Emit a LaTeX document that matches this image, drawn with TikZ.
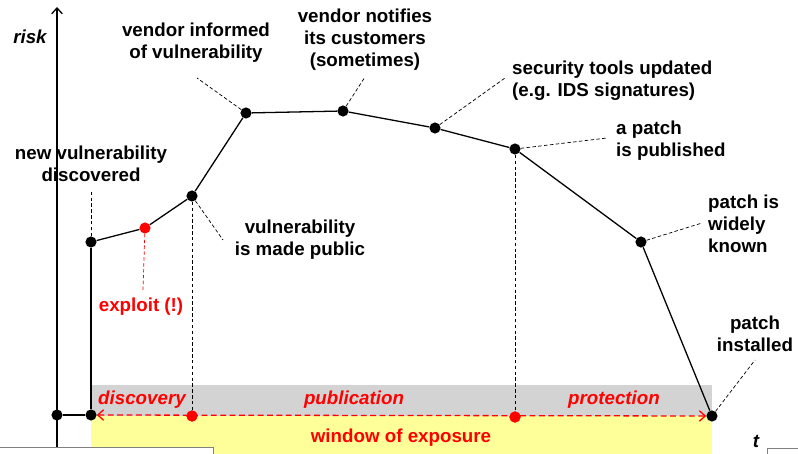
\documentclass[tikz,border=0pt]{standalone}
\usepackage{fontspec}
\setmainfont{Liberation Sans}
\usetikzlibrary{arrows.meta}
\definecolor{exposred}{rgb}{1, 0, 0}
\definecolor{bandgrey}{rgb}{0.827451, 0.827451, 0.827451}
\definecolor{bandyellow}{rgb}{1, 1, 0.6}
\tikzset{>={Straight Barb[length=5pt, width=9pt]}}
\tikzset{dot/.style={circle, fill=black, inner sep=0pt, minimum size=9.5pt}}
\tikzset{rdot/.style={circle, fill=exposred, inner sep=0pt, minimum size=9.5pt}}
\tikzset{curve/.style={line width=1.1pt, color=black}}
\tikzset{leader/.style={line width=0.6pt, dash pattern=on 3pt off 2pt}}
\tikzset{lbl/.style={font=\fontsize{16}{18.7}\selectfont\bfseries, align=center, inner sep=0pt}}
\tikzset{ilbl/.style={lbl, font=\fontsize{16}{18.7}\selectfont\bfseries\itshape}}
\tikzset{rlbl/.style={lbl, text=exposred}}

\begin{document}
\begin{tikzpicture}[x=0.03cm, y=-0.03cm]%{{{
        \useasboundingbox (0,0) rectangle (798,454);

        % exposure bands
        \fill [bandgrey] (91,385) rectangle (712,416);
        \fill [bandyellow] (91,416) rectangle (712,456);

        % axis
        \coordinate (A0) at (57,447);
        \coordinate (A1) at (57,7);
        \draw [line width=1.1pt, ->] (A0) -- (A1);
        \node[ilbl] (Lrisk) at (30,37) {risk};
        \node[ilbl] (Lt) at (756,441) {t};

        % points on the risk curve
        \node[dot] (P0) at (57,415) {};
        \node[dot] (P1) at (91,415) {};
        \node[dot] (P2) at (91,242) {};
        \node[rdot] (P3) at (145,228) {};
        \node[dot] (P4) at (192,196) {};
        \node[dot] (P5) at (246,113) {};
        \node[dot] (P6) at (343,111) {};
        \node[dot] (P7) at (435,128) {};
        \node[dot] (P8) at (515,149) {};
        \node[dot] (P9) at (641,242) {};
        \node[dot] (P10) at (712,416) {};
        \node[rdot] (R1) at (192,416) {};
        \node[rdot] (R2) at (515,417) {};

        \draw [curve] (P0) -- (P1);
        \draw [curve] (P1) -- (P2);
        \draw [curve] (P2) -- (P3);
        \draw [curve] (P3) -- (P4);
        \draw [curve] (P4) -- (P5);
        \draw [curve] (P5) -- (P6);
        \draw [curve] (P6) -- (P7);
        \draw [curve] (P7) -- (P8);
        \draw [curve] (P8) -- (P9);
        \draw [curve] (P9) -- (P10);

        \draw [leader] (P4) -- (R1);
        \draw [leader] (P8) -- (R2);
        \draw [line width=1.1pt, exposred, dash pattern=on 5pt off 3pt, <->] (P1) -- (P10);
        \node[rdot] at (R1) {};
        \node[rdot] at (R2) {};

        % labels and their leaders
        \coordinate (C2) at (91,190);
        \coordinate (C3) at (143,290);
        \coordinate (C4) at (223,240);
        \coordinate (C5) at (197,78);
        \coordinate (C6) at (365,77);
        \coordinate (C7) at (505,78);
        \coordinate (C8) at (607,138);
        \coordinate (C9) at (702,223);
        \coordinate (C10) at (755,360);

        \draw [leader] (P2) -- (C2);
        \draw [leader, exposred] (P3) -- (C3);
        \draw [leader] (P4) -- (C4);
        \draw [leader] (P5) -- (C5);
        \draw [leader] (P6) -- (C6);
        \draw [leader] (P7) -- (C7);
        \draw [leader] (P8) -- (C8);
        \draw [leader] (P9) -- (C9);
        \draw [leader] (P10) -- (C10);

        \node[lbl] (L2) at (91,164) {new vulnerability\\discovered};
        \node[rlbl] (L3) at (141,307) {exploit (!)};
        \node[lbl] (L4) at (300,240) {vulnerability\\is made public};
        \node[lbl] (L5) at (196,43) {vendor informed\\of vulnerability};
        \node[lbl] (L6) at (365,40) {vendor notifies\\its customers\\(sometimes)};
        \node[lbl, align=left, anchor=west] (L7) at (512,81) {security tools updated\\(e.g. IDS signatures)};
        \node[lbl, align=left, anchor=west] (L8) at (616,141) {a patch\\is published};
        \node[lbl, align=left, anchor=west] (L9) at (708,224) {patch is\\widely\\known};
        \node[lbl] (L10) at (755,334) {patch\\installed};

        \node[ilbl, text=exposred] (Ldisc) at (142,400) {discovery};
        \node[ilbl, text=exposred] (Lpubl) at (354,400) {publication};
        \node[ilbl, text=exposred] (Lprot) at (614,400) {protection};
        \node[rlbl] (Lwin) at (401,438) {window of exposure};

        % slide edges
        \filldraw [fill=white, draw=gray, line width=0.8pt] (-5,447) rectangle (213,460);
        \draw [gray, line width=0.8pt] (803,448) -- (767,448) -- (767,460);
    \end{tikzpicture}
\end{document}
